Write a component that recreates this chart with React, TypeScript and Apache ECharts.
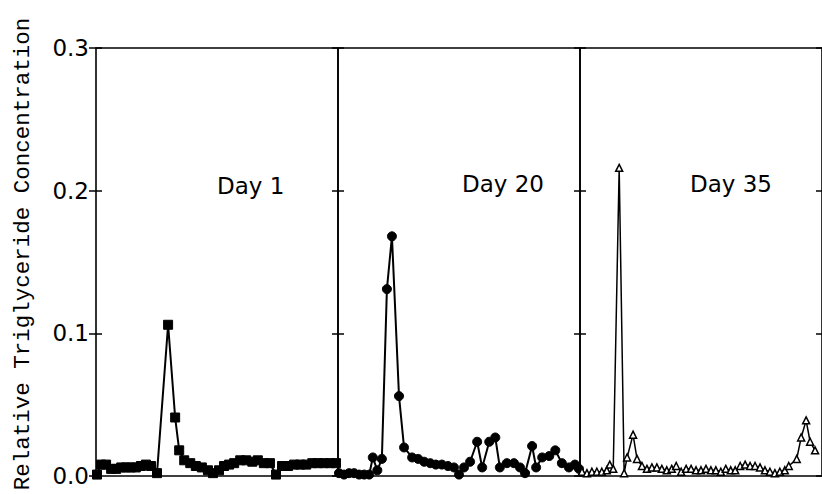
import React, { useEffect, useRef } from "react";
import * as echarts from "echarts";

const yTickValues = [0, 0.1, 0.2, 0.3];
const yAxisTitle = "Relative Triglyceride Concentration";
const panelLabels = ["Day 1", "Day 20", "Day 35"];

// x = fraction position within each panel, y = relative concentration
const day1X = [0.2, 1.0, 2.0, 3.0, 4.0, 5.0, 6.0, 6.9, 7.9, 8.9, 9.9, 10.9, 12.1, 14.3, 15.7, 16.5, 17.5, 18.7, 19.8, 21.0, 22.2, 23.2, 24.4, 25.4, 26.4, 27.4, 28.6, 29.8, 31.0, 32.1, 33.3, 34.5, 35.7, 36.9, 38.1, 39.3, 40.5, 41.7, 42.9, 44.0, 45.2, 46.4, 47.6];
const day1Y = [0.001, 0.008, 0.008, 0.005, 0.005, 0.006, 0.006, 0.006, 0.006, 0.007, 0.008, 0.007, 0.002, 0.106, 0.041, 0.018, 0.011, 0.009, 0.007, 0.006, 0.004, 0.002, 0.004, 0.007, 0.008, 0.009, 0.011, 0.011, 0.010, 0.011, 0.009, 0.009, 0.001, 0.007, 0.007, 0.008, 0.008, 0.008, 0.009, 0.009, 0.009, 0.009, 0.009];

const day20X = [0.2, 1.2, 2.2, 3.2, 4.2, 5.2, 6.2, 6.9, 7.8, 8.7, 9.7, 10.7, 12.1, 13.1, 14.7, 15.9, 17.1, 18.3, 19.4, 20.6, 21.8, 23.0, 24.0, 25.0, 26.2, 27.6, 28.6, 30.0, 31.2, 32.1, 33.5, 34.9, 36.1, 37.1, 38.5, 39.3, 40.5, 41.9, 43.1, 44.4, 45.8, 47.0, 47.8];
const day20Y = [0.002, 0.001, 0.002, 0.002, 0.001, 0.001, 0.001, 0.013, 0.004, 0.012, 0.131, 0.168, 0.056, 0.020, 0.013, 0.012, 0.010, 0.009, 0.008, 0.008, 0.007, 0.006, 0.001, 0.006, 0.010, 0.024, 0.006, 0.024, 0.027, 0.006, 0.009, 0.009, 0.006, 0.002, 0.021, 0.006, 0.013, 0.014, 0.018, 0.009, 0.006, 0.008, 0.005];

const day35X = [0.4, 1.4, 2.4, 3.4, 4.4, 5.4, 6.0, 6.7, 7.9, 8.9, 9.5, 10.7, 11.5, 12.5, 13.5, 14.5, 15.5, 16.5, 17.5, 18.5, 19.4, 20.4, 21.4, 22.4, 23.4, 24.4, 25.4, 26.4, 27.4, 28.4, 29.4, 30.4, 31.3, 32.3, 33.3, 34.3, 35.3, 36.3, 37.3, 38.3, 39.3, 40.3, 41.3, 42.1, 43.7, 44.6, 45.6, 46.4, 47.4];
const day35Y = [0.003, 0.002, 0.003, 0.003, 0.003, 0.004, 0.008, 0.005, 0.216, 0.002, 0.013, 0.029, 0.012, 0.007, 0.005, 0.006, 0.006, 0.005, 0.004, 0.005, 0.007, 0.003, 0.005, 0.005, 0.004, 0.004, 0.005, 0.004, 0.004, 0.003, 0.005, 0.004, 0.004, 0.007, 0.008, 0.007, 0.007, 0.006, 0.004, 0.003, 0.002, 0.003, 0.004, 0.007, 0.012, 0.027, 0.039, 0.024, 0.018];

const zip = (xs: number[], ys: number[]) => xs.map((x, i) => [x, ys[i]]);

const GRID_TOP = 48;
const GRID_H = 428;
const gridLefts = [96, 338, 580];
const gridWidths = [242, 242, 246];
const xMaxes = [48, 48, 48.8];

export default function App() {
  const ref = useRef<HTMLDivElement>(null);
  useEffect(() => {
    if (!ref.current) return;
    const chart = echarts.init(ref.current, undefined, { renderer: "svg" });
    const black = "#000";
    const grids = gridLefts.map((l, i) => ({
      left: l,
      top: GRID_TOP,
      width: gridWidths[i],
      height: GRID_H,
      show: true,
      borderColor: black,
      borderWidth: 1.6,
      backgroundColor: "transparent",
    }));
    const xAxes = gridLefts.map((_, i) => ({
      type: "value",
      gridIndex: i,
      min: 0,
      max: xMaxes[i],
      show: false,
    }));
    const baseY = {
      type: "value",
      min: 0,
      max: 0.3,
      interval: 0.1,
      splitLine: { show: false },
      axisLine: { show: false },
    };
    const yAxes: any[] = [];
    gridLefts.forEach((_, i) => {
      yAxes.push({
        ...baseY,
        gridIndex: i,
        position: "left",
        axisTick: { show: true, inside: true, length: 6, lineStyle: { color: black, width: 1.5 } },
        axisLabel: { show: false },
      });
      yAxes.push({
        ...baseY,
        gridIndex: i,
        position: "right",
        axisTick: { show: true, inside: true, length: 6, lineStyle: { color: black, width: 1.5 } },
        axisLabel: { show: false },
      });
    });
    yAxes.push({
      ...baseY,
      gridIndex: 0,
      position: "left",
      axisTick: { show: true, inside: false, length: 7, lineStyle: { color: black, width: 1.5 } },
      axisLabel: {
        show: true,
        margin: 7,
        color: black,
        fontFamily: "DejaVu Sans",
        fontSize: 23,
        formatter: (v: number) => (yTickValues.includes(Math.round(v * 10) / 10) ? v.toFixed(1) : ""),
      },
    });

    const option: any = {
      animation: false,
      backgroundColor: "#fff",
      grid: grids,
      xAxis: xAxes,
      yAxis: yAxes,
      series: [
        {
          type: "line",
          xAxisIndex: 0,
          yAxisIndex: 0,
          data: zip(day1X, day1Y),
          symbol: "rect",
          symbolSize: 9,
          lineStyle: { color: black, width: 2 },
          itemStyle: { color: black, borderColor: black },
        },
        {
          type: "line",
          xAxisIndex: 1,
          yAxisIndex: 2,
          data: zip(day20X, day20Y),
          symbol: "circle",
          symbolSize: 9,
          lineStyle: { color: black, width: 2 },
          itemStyle: { color: black, borderColor: black },
        },
        {
          type: "line",
          xAxisIndex: 2,
          yAxisIndex: 4,
          data: zip(day35X, day35Y),
          symbol: "triangle",
          symbolSize: 7,
          lineStyle: { color: black, width: 1.5 },
          itemStyle: { color: "#fff", borderColor: black, borderWidth: 1.5 },
        },
      ],
      graphic: [
        {
          type: "text",
          x: 23,
          y: 254,
          rotation: Math.PI / 2,
          style: {
            text: yAxisTitle,
            fontFamily: "Liberation Mono",
            fontSize: 22.5,
            fill: black,
            textAlign: "center",
            textVerticalAlign: "middle",
          },
        },
        {
          type: "text",
          x: 217,
          y: 186,
          style: { text: panelLabels[0], fontFamily: "DejaVu Sans", fontSize: 23, fill: black, textAlign: "left", textVerticalAlign: "middle" },
        },
        {
          type: "text",
          x: 462,
          y: 184,
          style: { text: panelLabels[1], fontFamily: "DejaVu Sans", fontSize: 23, fill: black, textAlign: "left", textVerticalAlign: "middle" },
        },
        {
          type: "text",
          x: 690,
          y: 184,
          style: { text: panelLabels[2], fontFamily: "DejaVu Sans", fontSize: 23, fill: black, textAlign: "left", textVerticalAlign: "middle" },
        },
      ],
    };
    chart.setOption(option);
    return () => chart.dispose();
  }, []);
  return (
    <div
      ref={ref}
      style={{ position: "fixed", left: 0, top: 0, width: 822, height: 494, background: "#fff" }}
    />
  );
}
